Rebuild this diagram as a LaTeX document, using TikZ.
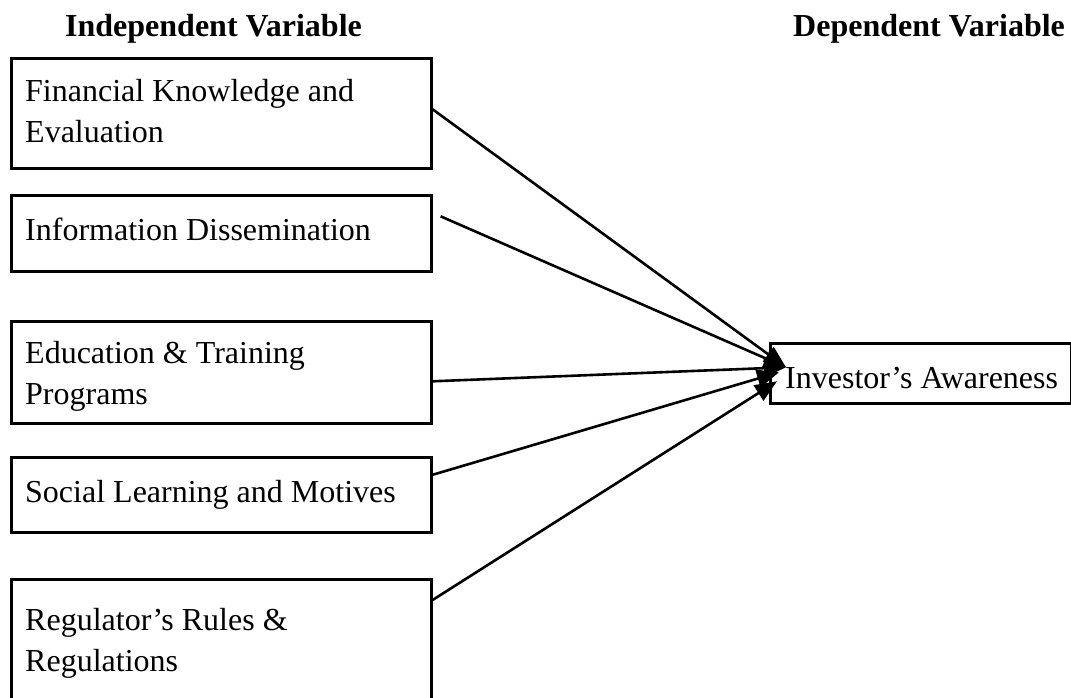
\documentclass[tikz,border=0pt]{standalone}
\usepackage{fontspec}
\setmainfont{Liberation Serif}
\usetikzlibrary{arrows.meta,calc}

% left-aligned lines whose reference point is the first baseline
\newcommand{\lines}[1]{\begin{tabular}[t]{@{}l@{}}#1\end{tabular}}

\begin{document}
\begin{tikzpicture}[x=1pt,y=-1pt,
  frame/.style={draw=black, line width=2.6pt, anchor=north west, inner sep=0pt, minimum width=420pt},
  label/.style={anchor=base west, inner sep=0pt, font=\fontsize{32}{41}\selectfont},
  heading/.style={anchor=base west, inner sep=0pt, font=\fontsize{32}{41}\selectfont\bfseries},
  link/.style={line width=2.6pt, -{Triangle[length=22pt,width=18pt]}}]
  \useasboundingbox (0,0) rectangle (1071,698);
  \clip (0,0) rectangle (1071,698);

  % column headings
  \node[heading] (hin) at (65,37) {Independent Variable};
  \node[heading] (hdep) at (793,37) {Dependent Variable};

  % independent variables
  \node[frame, minimum height=110pt] (b1) at (10,57) {};
  \node[label] (t1) at (25,102) {\lines{Financial Knowledge and\\Evaluation}};

  \node[frame, minimum height=76pt] (b2) at (10,194) {};
  \node[label] (t2) at (25,240) {Information Dissemination};

  \node[frame, minimum height=102pt] (b3) at (10,320) {};
  \node[label] (t3) at (25,363) {\lines{Education \& Training\\Programs}};

  \node[frame, minimum height=75pt] (b4) at (10,456) {};
  \node[label] (t4) at (25,502) {Social Learning and Motives};

  \node[frame, minimum height=150pt] (b5) at (10,578) {};
  \node[label] (t5) at (25,630) {\lines{Regulator’s Rules \&\\Regulations}};

  % dependent variable
  \node[frame, minimum width=301pt, minimum height=60pt] (inv) at (769,342) {};
  \node[label] (tinv) at (785,388) {Investor’s Awareness};

  % influences
  \draw[link] ($(b1.east)+(0,-4)$) -- ($(inv.west)+(17,-6)$);
  \draw[link] ($(b2.east)+(8,-17)$) -- ($(inv.west)+(17,-6)$);
  \draw[link] ($(b3.east)+(0,9)$) -- ($(inv.west)+(17,-6)$);
  \draw[link] ($(b4.east)+(0,-20)$) -- ($(inv.west)+(10,-1)$);
  \draw[link] ($(b5.north east)+(0,22)$) -- ($(inv.west)+(8,8)$);
\end{tikzpicture}
\end{document}
